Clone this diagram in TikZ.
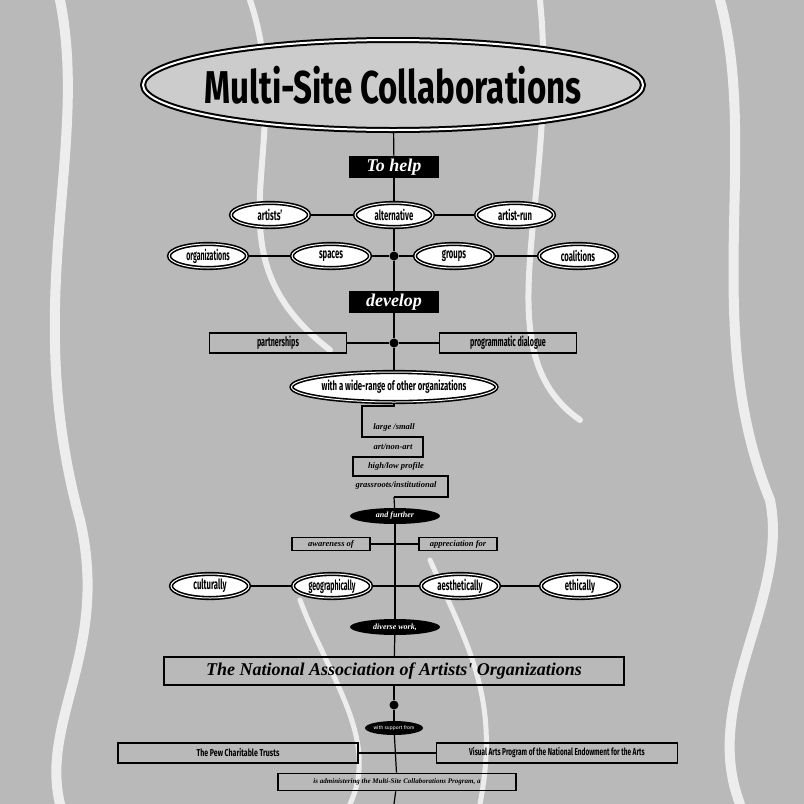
\documentclass[tikz,border=0pt]{standalone}
\usepackage{fontspec}
\setmainfont{Fira Sans}
\newfontfamily\ital{Liberation Serif}
\usetikzlibrary{shapes.geometric}
\newcommand{\cond}[2][0.55]{\scalebox{#1}[1]{\bfseries #2}}
\newcommand{\itb}[1]{{\ital\bfseries\itshape #1}}
\begin{document}
\begin{tikzpicture}[x=1pt,y=-1pt,
  dell/.style={ellipse,draw,line width=1.6pt,fill=white,double=white,double distance=1pt,inner sep=0pt,minimum width=78pt,minimum height=24pt,font=\fontsize{14}{14}\selectfont},
  bbox/.style={rectangle,fill=black,text=white,inner sep=0pt,minimum width=90pt,minimum height=22pt,font=\fontsize{18}{18}\selectfont},
  bell/.style={ellipse,fill=black,text=white,inner sep=0pt,minimum width=90pt,minimum height=16pt,font=\fontsize{8}{8}\selectfont},
  rbox/.style={rectangle,draw,line width=1.6pt,inner sep=0pt,minimum height=20pt},
  dot/.style={circle,fill=black,inner sep=0pt,minimum size=9pt},
  ln/.style={line width=1.2pt}]
\fill[gray!55] (0,0) rectangle (804,804);
\useasboundingbox (0,0) rectangle (804,804);
% marbling hints
\begin{scope}[white,line width=10pt,line cap=round,opacity=0.75]
\draw (60,0) .. controls (90,150) and (20,300) .. (80,520) .. controls (110,650) and (40,720) .. (60,804);
\draw (720,0) .. controls (760,150) and (700,330) .. (770,500) .. controls (790,600) and (700,700) .. (740,804);
\draw[line width=6pt] (250,0) .. controls (300,150) and (200,250) .. (330,350);
\draw[line width=6pt] (540,0) .. controls (560,200) and (480,350) .. (580,420);
\draw[line width=5pt] (300,600) .. controls (330,680) and (380,740) .. (350,804);
\draw[line width=5pt] (430,560) .. controls (470,650) and (500,700) .. (480,804);
\end{scope}
% title
\node[ellipse,draw,line width=2pt,double=white,double distance=2pt,fill=gray!40,minimum width=500pt,minimum height=90pt] (title) at (393,85) {};
\node at (393,85) {\cond[0.72]{\fontsize{46}{46}\selectfont Multi-Site Collaborations}};
\node[bbox] (help) at (394,167) {\itb{To help}};
\node[dell] (artists) at (270,215) {\cond{artists'}};
\node[dell] (alt) at (394,215) {\cond{alternative}};
\node[dell] (run) at (515,215) {\cond{artist-run}};
\node[dell] (org) at (208,256) {\cond[0.5]{organizations}};
\node[dell] (spaces) at (331,256) {\cond{spaces}};
\node[dot] (d1) at (394,256) {};
\node[dell] (groups) at (454,256) {\cond{groups}};
\node[dell] (coal) at (578,256) {\cond{coalitions}};
\node[bbox] (dev) at (394,302) {\itb{develop}};
\node[rbox,minimum width=137pt,font=\fontsize{13}{13}\selectfont] (part) at (278,343) {\cond{partnerships}};
\node[dot] (d2) at (394,343) {};
\node[rbox,minimum width=137pt,font=\fontsize{13}{13}\selectfont] (prog) at (508,343) {\cond{programmatic dialogue}};
\node[dell,minimum width=205pt,minimum height=30pt,font=\fontsize{13}{13}\selectfont] (wide) at (394,387) {\cond[0.6]{with a wide-range of other organizations}};
% stepped list
\coordinate (s0) at (394,406);
\draw[ln] (wide) -- (s0) -- (362,406) -- (362,437) -- (423,437) -- (423,457) -- (353,457) -- (353,476) -- (448,476) -- (448,497) -- (394,497) coordinate (s1);
\begin{scope}[font=\fontsize{8.5}{8.5}\selectfont]
\node (l1) at (394,427) {\itb{large /small}};
\node (l2) at (393,447) {\itb{art/non-art}};
\node (l3) at (396,466) {\itb{high/low profile}};
\node (l4) at (396,485) {\itb{grassroots/institutional}};
\end{scope}
\node[bell] (further) at (395,516) {\itb{and further}};
\node[rbox,minimum width=78pt,minimum height=13pt,font=\fontsize{8.5}{8.5}\selectfont] (aware) at (331,544) {\itb{awareness of}};
\node[rbox,minimum width=78pt,minimum height=13pt,font=\fontsize{8.5}{8.5}\selectfont] (appr) at (458,544) {\itb{appreciation for}};
\node[dell] (cult) at (210,586) {\cond{culturally}};
\node[dell] (geo) at (332,586) {\cond[0.5]{geographically}};
\node[dell] (aes) at (460,586) {\cond{aesthetically}};
\node[dell] (eth) at (580,586) {\cond{ethically}};
\node[bell] (diverse) at (395,627) {\itb{diverse work,}};
\node[rbox,minimum width=460pt,minimum height=28pt,font=\fontsize{18}{18}\selectfont] (naao) at (394,671) {\itb{The National Association of Artists' Organizations}};
\node[dot] (d3) at (394,705) {};
\node[bell,minimum width=58pt,minimum height=14pt,font=\fontsize{5}{5}\selectfont] (supp) at (394,728) {with support from};
\node[rbox,minimum width=240pt,font=\fontsize{10}{10}\selectfont] (pew) at (238,753) {\cond[0.7]{The Pew Charitable Trusts}};
\node[rbox,minimum width=241pt,font=\fontsize{10}{10}\selectfont] (nea) at (557,753) {\cond[0.65]{Visual Arts Program of the National Endowment for the Arts}};
\node[rbox,minimum width=238pt,minimum height=17pt,font=\fontsize{7}{7}\selectfont] (adm) at (397,782) {\itb{is administering the Multi-Site Collaborations Program, a}};
\coordinate (bot) at (394,804);
% connectors
\draw[ln] (title) -- (help); \draw[ln] (help) -- (alt); \draw[ln] (alt) -- (d1);
\draw[ln] (d1) -- (dev); \draw[ln] (dev) -- (d2); \draw[ln] (d2) -- (wide);
\draw[ln] (artists) -- (alt); \draw[ln] (alt) -- (run);
\draw[ln] (org) -- (spaces); \draw[ln] (spaces) -- (d1); \draw[ln] (d1) -- (groups); \draw[ln] (groups) -- (coal);
\draw[ln] (part) -- (d2); \draw[ln] (d2) -- (prog);
\draw[ln] (s1) -- (further); \draw[ln] (further) -- (diverse);
\draw[ln] (aware) -- (appr);
\draw[ln] (cult) -- (geo); \draw[ln] (geo) -- (aes); \draw[ln] (aes) -- (eth);
\draw[ln] (diverse) -- (naao); \draw[ln] (naao) -- (d3); \draw[ln] (d3) -- (supp);
\draw[ln] (supp) -- (adm); \draw[ln] (pew) -- (nea); \draw[ln] (adm) -- (bot);
\end{tikzpicture}
\end{document}
